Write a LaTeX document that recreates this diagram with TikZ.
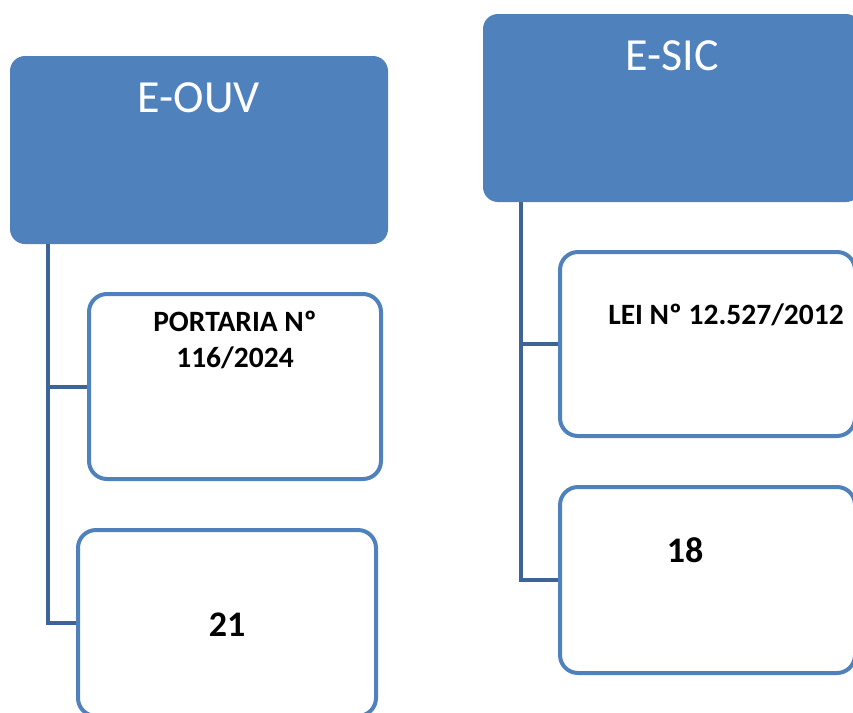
\documentclass[tikz,border=0pt]{standalone}
\usepackage{fontspec}
\setmainfont{Carlito}
\usetikzlibrary{backgrounds}
\definecolor{headblue}{RGB}{79,129,189}
\definecolor{linkblue}{RGB}{60,100,150}
\tikzset{
  headbox/.style={fill=headblue, draw=none, rounded corners=15pt, inner sep=0pt, minimum width=378pt, minimum height=188pt},
  childbox/.style={draw=headblue, fill=white, line width=4pt, rounded corners=18pt, inner sep=0pt},
  headtext/.style={text=white, font=\fontsize{46}{52}\selectfont, inner sep=0pt, anchor=base},
  childtext/.style={text=black, font=\bfseries\fontsize{29.5}{36}\selectfont, inner sep=0pt, align=center},
  numtext/.style={text=black, font=\bfseries\fontsize{36}{40}\selectfont, inner sep=0pt, anchor=base},
  conn/.style={draw=linkblue, line width=4pt}
}
\begin{document}
\begin{tikzpicture}[x=1pt, y=-1pt]
\useasboundingbox (0,0) rectangle (853,712);
\clip (0,0) rectangle (853,712);
% heads
\node[headbox] (ouv) at (199,150) {};
\node[headbox] (sic) at (672,108) {};
\node[headtext] (ouvt) at (199,112) {E-OUV};
\node[headtext] (sict) at (672,70) {E-SIC};
% children
\node[childbox, minimum width=292pt, minimum height=185pt] (b1) at (235,386.5) {};
\node[childbox, minimum width=298pt, minimum height=186pt] (b2) at (227,623) {};
\node[childbox, minimum width=295pt, minimum height=184pt] (b3) at (707.5,344) {};
\node[childbox, minimum width=295pt, minimum height=186pt] (b4) at (707.5,580) {};
% texts
\node[childtext, anchor=north] (b1t) at (235,311) {PORTARIA Nº\\116/2024};
\node[numtext] (b2t) at (227,636) {21};
\node[childtext, anchor=base] (b3t) at (726,324) {LEI Nº 12.527/2012};
\node[numtext] (b4t) at (685,562) {18};
% connectors
\begin{pgfonlayer}{background}
\coordinate (ouvstem) at ([xshift=38pt]ouv.south west);
\coordinate (sicstem) at ([xshift=38pt]sic.south west);
\draw[conn] (ouvstem) |- (b1.west);
\draw[conn] (ouvstem) |- (b2.west);
\draw[conn] (sicstem) |- (b3.west);
\draw[conn] (sicstem) |- (b4.west);
\end{pgfonlayer}
\end{tikzpicture}
\end{document}
